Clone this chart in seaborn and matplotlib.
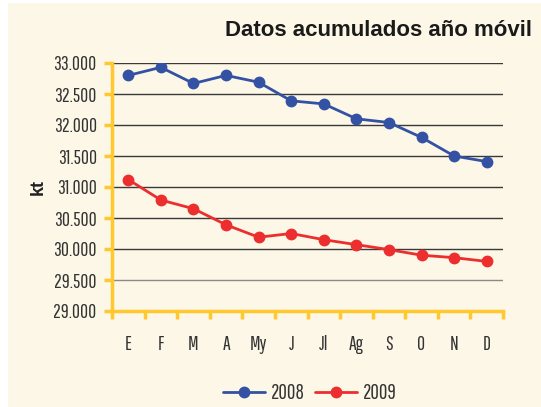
import matplotlib
matplotlib.use("Agg")
import matplotlib.pyplot as plt
from matplotlib.patches import Rectangle
import seaborn as sns
import pandas as pd

months = ["E", "F", "M", "A", "My", "J", "Jl", "Ag", "S", "O", "N", "D"]
values_2008 = [32800, 32930, 32670, 32800, 32690, 32390, 32340, 32100, 32040, 31800, 31500, 31410]
values_2009 = [31120, 30790, 30650, 30390, 30190, 30250, 30150, 30070, 29990, 29900, 29860, 29800]
years = ["2008", "2009"]
y_ticks = [29000, 29500, 30000, 30500, 31000, 31500, 32000, 32500, 33000]

df = pd.DataFrame({
    "mes": months * 2,
    "x": list(range(len(months))) * 2,
    "kt": values_2008 + values_2009,
    "año": [years[0]] * len(months) + [years[1]] * len(months),
})

sns.set_theme(style="white")
narrow = ["Pathway Gothic One", "Liberation Sans Narrow", "DejaVu Sans"]
heavy = ["Liberation Sans", "DejaVu Sans"]
plt.rcParams["font.family"] = narrow

cream = "#FDF7E7"
yellow = "#FFC82E"
text_col = "#333333"
palette = {"2008": "#3452A4", "2009": "#EC2E2E"}

fig = plt.figure(figsize=(5.41, 4.07), dpi=100, facecolor="white")
fig.patches.append(Rectangle((8 / 541, 0), 1, 1 - 3 / 407, transform=fig.transFigure,
                             facecolor=cream, edgecolor="none", zorder=-10))
ax = fig.add_axes([112 / 541, 1 - 311 / 407, (503 - 112) / 541, (311 - 63) / 407])
ax.set_facecolor(cream)

sns.lineplot(data=df, x="x", y="kt", hue="año", palette=palette, marker="o",
             markersize=8.5, markeredgewidth=0, linewidth=2.0, ax=ax, legend=True,
             zorder=3)

ax.set_xlim(-0.5, len(months) - 0.5)
ax.set_ylim(29000, 33000)
ax.set_yticks(y_ticks)
ax.set_yticklabels([f"{v:,}".replace(",", ".") for v in y_ticks])
ax.set_xticks([i + 0.5 for i in range(-1, len(months))], minor=False)
ax.set_xticklabels([])
ax.set_xticks(range(len(months)), minor=True)
ax.set_xticklabels(months, minor=True)

for v in y_ticks[1:]:
    ax.axhline(v, color="#3a3a3a" if v > 29500 else "#8a8a8a", linewidth=1.0, zorder=1)

for side in ("top", "right"):
    ax.spines[side].set_visible(False)
for side in ("left", "bottom"):
    ax.spines[side].set_color(yellow)
    ax.spines[side].set_linewidth(2.5)

ax.tick_params(axis="y", which="major", direction="out", length=6, width=2.5,
               color=yellow, labelsize=14, labelcolor=text_col, pad=5, left=True)
ax.tick_params(axis="x", which="major", direction="out", length=6, width=2.5,
               color=yellow, bottom=True)
ax.tick_params(axis="x", which="minor", length=0, labelsize=14, labelcolor=text_col, pad=17)

ax.set_xlabel("")
ax.set_ylabel("")
fig.text(38 / 541, 1 - 187 / 407, "kt", rotation=90, ha="center", va="center",
         fontsize=13, fontweight="bold", family=heavy, color="#222222")

handles, labels = ax.get_legend_handles_labels()
ax.get_legend().remove()
fig.legend(handles, labels, loc="center", bbox_to_anchor=(310 / 541, 1 - 393 / 407),
           ncol=2, frameon=False, fontsize=15, handlelength=2.0, columnspacing=0.5,
           handletextpad=0.3, labelcolor=text_col)

fig.text(532 / 541, 1 - 31 / 407, "Datos acumulados año móvil", ha="right", va="center",
         fontsize=16, fontweight="bold", family=heavy, color="#1a1a1a")

fig.savefig("out.png", dpi=100, facecolor="white")
